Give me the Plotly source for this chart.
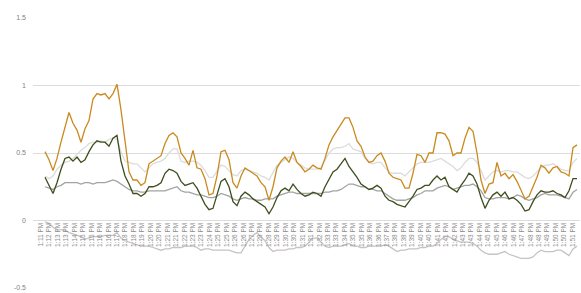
import plotly.graph_objects as go
import numpy as np

tick_labels = ["1:11 PM","1:11 PM","1:12 PM","1:13 PM","1:13 PM","1:14 PM","1:15 PM","1:15 PM","1:16 PM","1:16 PM",
"1:17 PM","1:18 PM","1:18 PM","1:19 PM","1:20 PM","1:20 PM","1:21 PM","1:21 PM","1:22 PM","1:23 PM",
"1:23 PM","1:24 PM","1:25 PM","1:25 PM","1:26 PM","1:26 PM","1:27 PM","1:28 PM","1:28 PM","1:29 PM",
"1:30 PM","1:30 PM","1:31 PM","1:31 PM","1:32 PM","1:33 PM","1:33 PM","1:34 PM","1:35 PM","1:35 PM",
"1:36 PM","1:36 PM","1:37 PM","1:38 PM","1:38 PM","1:39 PM","1:40 PM","1:40 PM","1:41 PM","1:41 PM",
"1:42 PM","1:43 PM","1:43 PM","1:44 PM","1:45 PM","1:45 PM","1:46 PM","1:46 PM","1:47 PM","1:48 PM",
"1:48 PM","1:49 PM","1:50 PM","1:50 PM","1:51 PM"]

orange = [0.51,0.45,0.37,0.46,0.58,0.70,0.80,0.72,0.67,0.58,0.68,0.74,0.90,0.94,0.93,0.94,0.90,0.94,1.01,0.82,
0.57,0.36,0.30,0.30,0.26,0.28,0.42,0.44,0.46,0.48,0.57,0.63,0.65,0.62,0.50,0.46,0.41,0.52,0.39,0.38,
0.31,0.19,0.20,0.33,0.51,0.52,0.45,0.28,0.24,0.33,0.39,0.37,0.35,0.33,0.28,0.25,0.15,0.25,0.39,0.44,
0.47,0.43,0.51,0.43,0.40,0.36,0.38,0.41,0.39,0.38,0.46,0.56,0.62,0.67,0.71,0.76,0.76,0.69,0.59,0.55,
0.47,0.43,0.44,0.48,0.50,0.44,0.35,0.32,0.31,0.30,0.24,0.24,0.35,0.49,0.48,0.43,0.50,0.50,0.65,0.65,
0.64,0.59,0.48,0.50,0.50,0.61,0.69,0.66,0.50,0.30,0.20,0.27,0.28,0.43,0.33,0.35,0.31,0.34,0.29,0.23,
0.16,0.18,0.25,0.32,0.41,0.39,0.35,0.39,0.40,0.36,0.35,0.33,0.54,0.56]

light_grey = [0.33,0.31,0.33,0.38,0.41,0.43,0.44,0.46,0.49,0.52,0.54,0.57,0.58,0.58,0.59,0.58,0.60,0.61,0.60,0.51,
0.44,0.43,0.42,0.42,0.39,0.36,0.39,0.42,0.43,0.44,0.46,0.50,0.53,0.53,0.44,0.43,0.44,0.44,0.43,0.41,
0.37,0.32,0.32,0.37,0.41,0.40,0.37,0.34,0.33,0.37,0.38,0.37,0.36,0.35,0.33,0.32,0.30,0.36,0.41,0.43,
0.45,0.47,0.46,0.43,0.41,0.39,0.38,0.38,0.38,0.39,0.45,0.50,0.53,0.54,0.54,0.55,0.57,0.53,0.52,0.51,
0.46,0.43,0.42,0.43,0.43,0.39,0.36,0.35,0.35,0.35,0.33,0.36,0.39,0.42,0.43,0.43,0.43,0.44,0.45,0.46,
0.44,0.42,0.40,0.37,0.39,0.43,0.46,0.46,0.43,0.37,0.30,0.33,0.36,0.37,0.36,0.37,0.37,0.36,0.36,0.34,
0.32,0.31,0.33,0.36,0.39,0.41,0.41,0.42,0.40,0.38,0.37,0.37,0.43,0.46]

dark_green = [0.32,0.26,0.20,0.28,0.38,0.46,0.47,0.44,0.47,0.43,0.45,0.51,0.56,0.59,0.58,0.58,0.55,0.61,0.63,0.44,
0.33,0.27,0.20,0.20,0.18,0.20,0.25,0.25,0.26,0.28,0.35,0.38,0.37,0.35,0.29,0.26,0.27,0.28,0.24,0.18,
0.12,0.08,0.09,0.19,0.29,0.31,0.25,0.14,0.11,0.18,0.21,0.19,0.16,0.14,0.12,0.10,0.05,0.10,0.17,0.22,
0.24,0.22,0.27,0.23,0.20,0.18,0.19,0.21,0.20,0.18,0.25,0.30,0.36,0.38,0.42,0.46,0.40,0.36,0.32,0.27,
0.25,0.23,0.24,0.26,0.24,0.18,0.15,0.14,0.12,0.11,0.10,0.14,0.18,0.23,0.24,0.26,0.26,0.30,0.33,0.30,
0.32,0.25,0.23,0.21,0.26,0.30,0.35,0.33,0.27,0.17,0.09,0.15,0.19,0.21,0.18,0.21,0.16,0.17,0.15,0.12,
0.07,0.08,0.14,0.19,0.22,0.21,0.21,0.22,0.20,0.19,0.17,0.22,0.31,0.31]

mid_grey = [0.25,0.24,0.23,0.25,0.26,0.28,0.28,0.28,0.28,0.27,0.28,0.28,0.27,0.28,0.28,0.28,0.29,0.30,0.29,0.27,
0.25,0.23,0.22,0.22,0.21,0.21,0.22,0.22,0.22,0.22,0.22,0.23,0.24,0.25,0.22,0.21,0.21,0.20,0.19,0.19,
0.18,0.17,0.17,0.18,0.20,0.19,0.18,0.16,0.15,0.16,0.17,0.16,0.16,0.15,0.15,0.16,0.16,0.16,0.18,0.19,
0.20,0.21,0.21,0.20,0.20,0.20,0.20,0.20,0.20,0.20,0.21,0.21,0.22,0.22,0.23,0.25,0.27,0.27,0.26,0.25,
0.25,0.23,0.23,0.22,0.22,0.20,0.18,0.16,0.15,0.15,0.15,0.16,0.17,0.19,0.20,0.22,0.22,0.22,0.24,0.25,
0.26,0.25,0.23,0.24,0.25,0.26,0.26,0.27,0.25,0.22,0.17,0.16,0.16,0.17,0.17,0.17,0.16,0.17,0.19,0.18,
0.16,0.15,0.16,0.17,0.19,0.20,0.19,0.19,0.19,0.18,0.17,0.16,0.21,0.23]

neg_grey = [-0.01,-0.02,-0.05,-0.07,-0.07,-0.07,-0.09,-0.10,-0.11,-0.12,-0.14,-0.13,-0.12,-0.12,-0.12,-0.11,-0.11,-0.11,-0.09,-0.13,
-0.15,-0.16,-0.17,-0.18,-0.19,-0.19,-0.19,-0.20,-0.21,-0.22,-0.21,-0.21,-0.20,-0.20,-0.20,-0.19,-0.19,-0.19,-0.20,-0.22,
-0.21,-0.21,-0.22,-0.22,-0.22,-0.22,-0.22,-0.23,-0.24,-0.24,-0.19,-0.14,-0.11,-0.09,-0.12,-0.15,-0.20,-0.23,-0.22,-0.22,
-0.22,-0.21,-0.21,-0.20,-0.20,-0.19,-0.16,-0.13,-0.13,-0.16,-0.19,-0.20,-0.19,-0.19,-0.19,-0.18,-0.17,-0.19,-0.19,-0.20,
-0.20,-0.19,-0.19,-0.19,-0.19,-0.18,-0.19,-0.21,-0.23,-0.22,-0.22,-0.21,-0.21,-0.21,-0.20,-0.20,-0.19,-0.19,-0.17,-0.14,
-0.12,-0.12,-0.14,-0.15,-0.16,-0.16,-0.16,-0.17,-0.19,-0.22,-0.24,-0.25,-0.25,-0.25,-0.24,-0.23,-0.25,-0.26,-0.27,-0.28,
-0.28,-0.28,-0.27,-0.24,-0.22,-0.23,-0.23,-0.23,-0.22,-0.22,-0.24,-0.26,-0.21,-0.19]

series = [
    ("neg_grey", neg_grey, "#C4C4C4"),
    ("mid_grey", mid_grey, "#A3A3A3"),
    ("light_grey", light_grey, "#DCDCDC"),
    ("dark_green", dark_green, "#3E4E1C"),
    ("orange", orange, "#C98A1E"),
]

fig = go.Figure()
for name, vals, col in series:
    fig.add_trace(go.Scatter(x=list(range(len(vals))), y=vals, mode="lines", name=name,
                             line=dict(color=col, width=1.3), showlegend=False))

tick_pos = np.linspace(-3.125, 131.9, len(tick_labels))

fig.update_layout(
    width=581, height=293,
    margin=dict(l=33, r=1, t=18, b=5),
    paper_bgcolor="white", plot_bgcolor="white",
    font=dict(family="Liberation Sans, Arial, sans-serif", size=7, color="#7F7F7F"),
    xaxis=dict(range=[-3, 133.75], tickmode="array", tickvals=tick_pos, ticktext=tick_labels,
               tickangle=-90, showgrid=False, zeroline=False, showline=False,
               anchor="free", position=0.25, ticks="", tickfont=dict(size=6.5, color="#8C8C8C")),
    yaxis=dict(range=[-0.5, 1.5], tickmode="array", tickvals=[-0.5, 0, 0.5, 1, 1.5],
               ticktext=["-0.5", "0", "0.5", "1", "1.5"], showgrid=True, gridcolor="#DCDCDC",
               gridwidth=1, zeroline=False, showline=False, ticks="", ticklabelstandoff=6,
               tickfont=dict(size=7, color="#7F7F7F")),
)

fig.write_html("out.html", config={"displayModeBar": False},
               post_script="document.body.style.margin='0';document.body.style.overflow='hidden';")
